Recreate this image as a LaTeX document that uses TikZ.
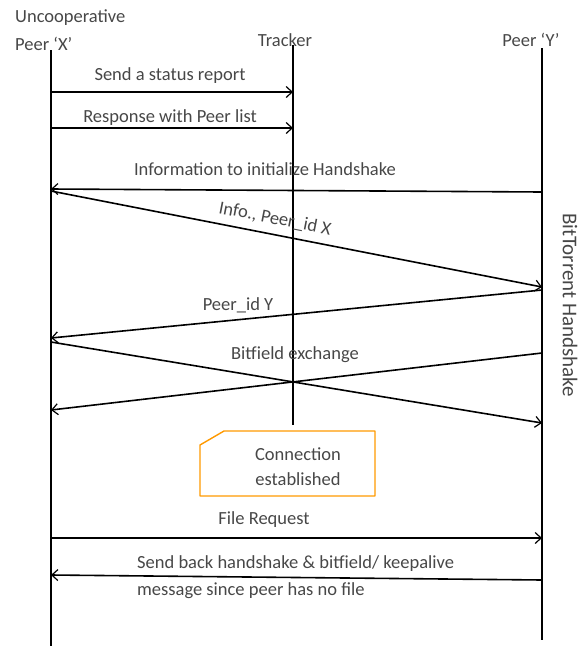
\documentclass[tikz,border=0pt]{standalone}
\usepackage{fontspec}
\setmainfont{Carlito}
\usetikzlibrary{arrows.meta,positioning,calc}

\begin{document}
\begin{tikzpicture}[
  x=1pt, y=-1pt,
  lbl/.style={text=black!72, font=\fontsize{18.5}{21}\selectfont, inner sep=1pt},
  life/.style={line width=1.8pt},
  msg/.style={line width=1.6pt, -{Straight Barb[length=6pt, width=11pt, line width=1.2pt]}},
  note/.style={draw=orange!80!yellow, line width=1.4pt, line join=round}]

\useasboundingbox (0,0) rectangle (585,646);

% heads of the lifelines
\node[lbl, anchor=west] (unc) at (14,18) {Uncooperative};
\node[lbl, anchor=west] (px) at (14,44) {Peer `X'};
\node[lbl] (tr) at (285,40) {Tracker};
\node[lbl] (py) at (531,40) {Peer `Y'};

\coordinate (xtop) at (51,50);   \coordinate (xbot) at (51,646);
\coordinate (ttop) at (293,45);  \coordinate (tbot) at (293,425);
\coordinate (ytop) at (542,48);  \coordinate (ybot) at (542,640);
\draw[life] (xtop) -- (xbot);
\draw[life] (ttop) -- (tbot);
\draw[life] (ytop) -- (ybot);

% ends of the messages
\coordinate (x1) at (51,92);   \coordinate (t1) at (293,92);
\coordinate (x2) at (51,128);  \coordinate (t2) at (293,128);
\coordinate (y3) at (542,192); \coordinate (x3) at (51,189);
\coordinate (x4) at (51,191);  \coordinate (y4) at (542,287);
\coordinate (y5) at (542,290); \coordinate (x5) at (51,338);
\coordinate (x6) at (51,342);  \coordinate (y6) at (542,423);
\coordinate (y7) at (542,353); \coordinate (x7) at (51,410);
\coordinate (x8) at (51,538);  \coordinate (y8) at (542,538);
\coordinate (y9) at (542,580); \coordinate (x9) at (51,575);

\draw[msg] (x1) -- (t1);
\draw[msg] (x2) -- (t2);
\draw[msg] (y3) -- (x3);
\draw[msg] (x4) -- node[lbl, sloped, above=6pt, pos=0.45] (m4) {Info., Peer\_id X} (y4);
\draw[msg] (y5) -- (x5);
\draw[msg] (x6) -- (y6);
\draw[msg] (y7) -- (x7);
\draw[msg] (x8) -- (y8);
\draw[msg] (y9) -- (x9);

\node[lbl] (m1) at (170,76) {Send a status report};
\node[lbl] (m2) at (170,118) {Response with Peer list};
\node[lbl] (m3) at (265,169) {Information to initialize Handshake};
\node[lbl] (m5) at (238,305) {Peer\_id Y};
\node[lbl] (m6) at (295,355) {Bitfield exchange};
\node[lbl] (m8) at (264,520) {File Request};
\node[lbl, anchor=west, align=left, font=\fontsize{18.5}{27}\selectfont] (m9) at (136,577)
  {Send back handshake \& bitfield/ keepalive\\message since peer has no file};

\node[lbl, rotate=-90, font=\fontsize{21}{24}\selectfont] (hs) at (570,305) {BitTorrent Handshake};

% note with a cut corner
\draw[note] (200,445) -- (224,431) -- (375,431) -- (375,496) -- (200,496) -- cycle;
\node[lbl, align=center, font=\fontsize{18.5}{25}\selectfont] (conn) at (298,467) {Connection\\established};
\end{tikzpicture}
\end{document}
